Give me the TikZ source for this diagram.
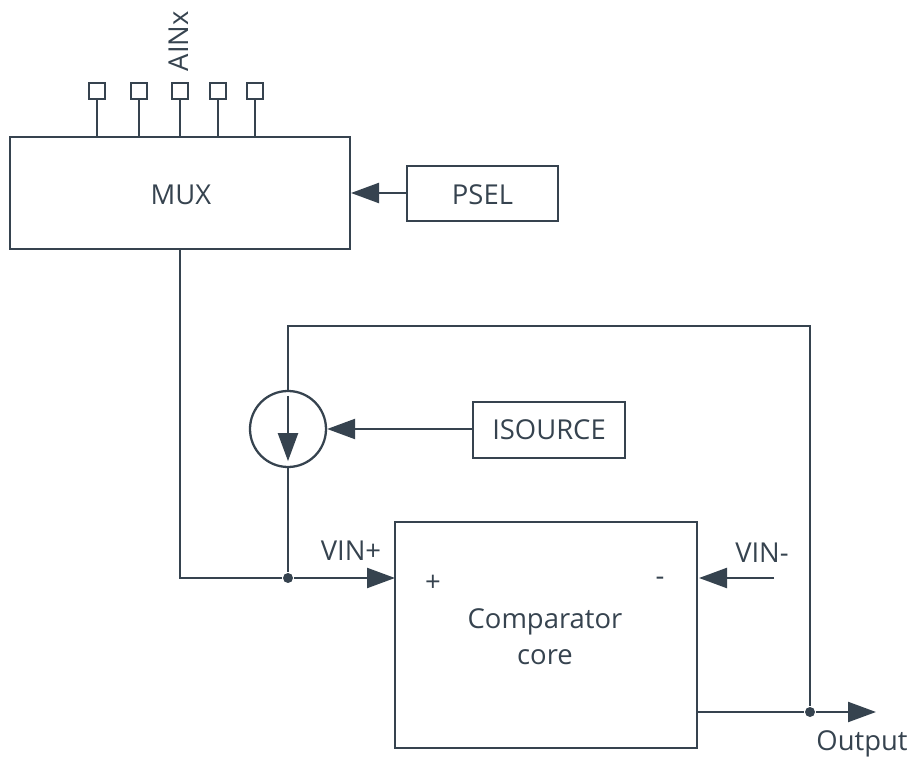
\documentclass[tikz,border=0pt]{standalone}
\usepackage{xcolor}
\usepackage{fontspec}
\setmainfont{Open Sans}
\usetikzlibrary{arrows.meta,positioning}
\definecolor{linecol}{HTML}{36434F}

\begin{document}
\begin{tikzpicture}[
  line width=1.3pt, draw=linecol, text=linecol,
  every node/.style={font=\fontsize{15.6}{20.6}\selectfont},
  blockbox/.style={rectangle, draw=linecol, align=center, inner sep=0pt},
  pinbox/.style={rectangle, draw=linecol, fill=white, minimum size=0.33cm, inner sep=0pt},
  isrc/.style={circle, draw=linecol, minimum size=1.52cm, inner sep=0pt},
  junct/.style={circle, fill=linecol, minimum size=0.2cm, inner sep=0pt},
  lbl/.style={inner sep=0pt},
  arr/.style={-{Triangle[length=5.6mm,width=4mm]}, draw=linecol},
  wire/.style={draw=linecol}
]
\useasboundingbox (0,0) rectangle (18.24,15.12);

\node[blockbox, minimum width=6.8cm, minimum height=2.24cm] (mux) at (3.6,11.26) {};
\node[lbl] (muxtxt) at (3.62,11.22) {MUX};
\node[blockbox, minimum width=3.02cm, minimum height=1.1cm] (psel) at (9.65,11.25) {};
\node[lbl] (pseltxt) at (9.65,11.22) {PSEL};

% analog input pins
\foreach \px/\pname in {1.94/p1,2.78/p2,3.6/p3,4.36/p4,5.10/p5} {
  \node[pinbox] (\pname) at (\px,13.3) {};
  \draw[wire] (\pname.south) -- (\pname.south |- mux.north);
}
\node[lbl, rotate=90] (ainx) at (3.58,14.3) {AINx};

% current source
\node[isrc] (curr) at (5.76,6.54) {};
\node[blockbox, minimum width=3.04cm, minimum height=1.12cm] (isource) at (10.98,6.52) {ISOURCE};

% comparator
\node[blockbox, minimum width=6.04cm, minimum height=4.52cm] (comp) at (10.92,2.42) {};
\node[lbl, align=center] (core) at (10.9,2.38) {Comparator\\core};
\node[lbl] (plus) at (8.66,3.46) {+};
\node[lbl] (minus) at (13.2,3.5) {-};
\node[lbl] (vinp) at (7.02,4.1) {VIN+};
\node[lbl] (vinm) at (15.24,4.06) {VIN-};
\node[lbl] (out) at (17.24,0.24) {Output};

\node[junct] (jin) at (5.76,3.56) {};
\node[junct] (jout) at (16.2,0.88) {};
\coordinate (inp) at (7.9,3.56);
\coordinate (inm) at (13.98,3.56);
\coordinate (vmfree) at (15.48,3.56);
\coordinate (outp) at (13.94,0.88);
\coordinate (outend) at (17.52,0.88);
\coordinate (fbtop) at (5.76,8.6);
\coordinate (muxin) at (7.02,11.26);

\draw[arr] (psel.west |- muxin) -- (muxin);
\draw[wire] (mux.south) |- (jin);
\draw[arr] (jin) -- (inp);
\draw[wire] (curr.south) -- (jin);
\draw[arr] (isource.west |- curr) -- (curr);
\draw[arr, shorten <=0.12cm, shorten >=0.14cm] (curr.north) -- (curr.south);
\draw[wire] (curr.north) -- (fbtop) -| (jout);
\draw[arr] (vmfree) -- (inm);
\draw[wire] (outp) -- (jout);
\draw[arr] (jout) -- (outend);

\end{tikzpicture}
\end{document}
